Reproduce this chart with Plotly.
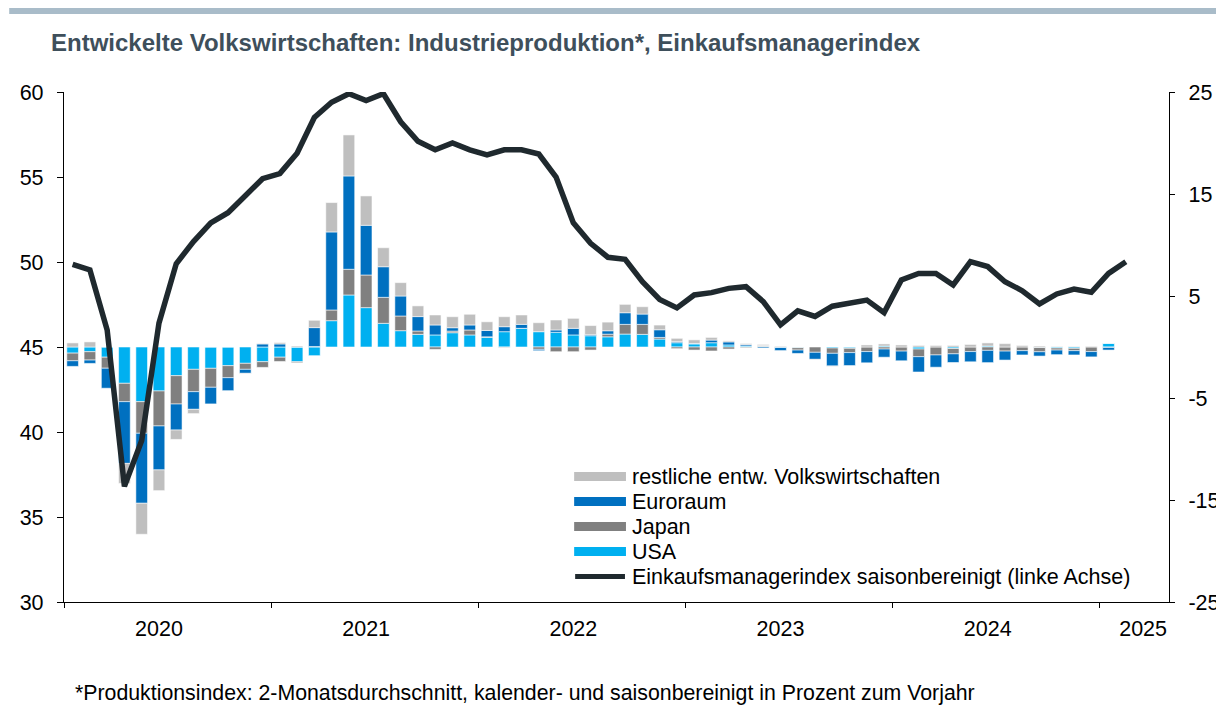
import plotly.graph_objects as go

# month index 0 = Jan 2020
months = list(range(62))

pmi = [49.86, 49.53, 46.0, 36.8, 39.5, 46.4, 49.9, 51.2, 52.3, 52.9, 53.9, 54.9,
       55.2, 56.4, 58.5, 59.4, 59.9, 59.5, 59.9, 58.25, 57.1, 56.6, 57.0, 56.6,
       56.3, 56.6, 56.6, 56.35, 55.0, 52.3, 51.1, 50.28, 50.16, 48.84, 47.8, 47.3,
       48.06, 48.2, 48.45, 48.55, 47.67, 46.3, 47.13, 46.8, 47.4, 47.57, 47.76, 47.02,
       48.94, 49.33, 49.33, 48.65, 50.02, 49.73, 48.84, 48.31, 47.53, 48.12, 48.41, 48.22,
       49.33, 50.02]

usa = [-0.6, -0.46, -1.0, -3.56, -5.36, -4.31, -2.81, -2.19, -2.09, -1.83, -1.6, -1.44,
       -1.0, -1.44, -0.85, 2.58, 5.1, 3.86, 2.32, 1.6, 1.24, 1.18, 1.4, 1.18,
       0.95, 1.5, 1.83, 1.5, 1.44, 1.18, 1.1, 1.0, 1.27, 1.24, 0.78, 0.42,
       0.3, 0.42, 0.2, 0.1, 0.05, -0.05, -0.07, 0.0, -0.1, -0.13, 0.0, 0.1,
       0.0, -0.2, 0.0, -0.15, 0.0, 0.1, 0.0, 0.0, -0.05, -0.1, -0.13, 0.0,
       0.36]
japan = [-0.75, -0.82, -1.08, -1.8, -3.1, -3.43, -2.78, -2.19, -1.86, -1.18, -0.59, -0.56,
         -0.42, -0.1, 0.05, 1.05, 2.52, 3.2, 2.55, 1.44, 0.33, -0.23, 0.16, 0.49,
         0.05, -0.05, 0.0, -0.23, -0.46, -0.46, -0.3, 0.26, 0.95, 0.98, 0.16, -0.16,
         -0.3, -0.39, -0.2, -0.07, 0.1, 0.0, -0.23, -0.52, -0.52, -0.42, -0.45, -0.2,
         -0.4, -0.75, -0.78, -0.52, -0.45, -0.33, -0.4, -0.36, -0.42, -0.2, -0.23, -0.45,
         -0.05]
euro = [-0.55, -0.33, -1.96, -6.05, -6.86, -4.31, -2.55, -1.73, -1.63, -1.27, -0.39, 0.3,
        0.3, 0.0, 1.85, 7.65, 9.15, 4.87, 3.0, 1.96, 1.41, 0.98, 0.33, 0.49,
        0.62, 0.49, 0.39, -0.13, 0.23, 0.65, 0.1, 0.33, 1.14, 1.01, 0.75, 0.1,
        0.05, 0.26, 0.3, 0.13, -0.1, -0.3, -0.33, -0.69, -1.24, -1.27, -1.1, -0.8,
        -0.95, -1.5, -1.2, -0.85, -1.0, -1.2, -0.88, -0.42, -0.42, -0.45, -0.42, -0.52,
        -0.25]
rest = [0.4, 0.5, 0.0, -1.96, -3.04, -2.03, -0.92, -0.42, 0.0, 0.0, -0.05, 0.05,
        0.13, 0.1, 0.72, 2.88, 4.02, 2.88, 1.86, 1.31, 1.05, 0.98, 1.08, 1.05,
        0.85, 0.98, 0.92, 0.88, 0.98, 0.98, 0.9, 0.85, 0.82, 0.72, 0.46, 0.33,
        0.35, 0.26, 0.1, 0.1, 0.1, 0.07, 0.0, -0.05, -0.05, 0.0, 0.2, 0.2,
        0.2, 0.15, 0.15, 0.15, 0.25, 0.3, 0.33, 0.15, 0.1, 0.05, 0.05, 0.07,
        0.0]
bar_months = months[:len(usa)]

year_labels = ["2020", "2021", "2022", "2023", "2024", "2025"]
year_label_pos = [5, 17, 29, 41, 53, 62]
year_sep_pos = [-0.5, 11.5, 23.5, 35.5, 47.5, 59.5]

left_ticks = [30, 35, 40, 45, 50, 55, 60]
right_ticks = [-25, -15, -5, 5, 15, 25]
right_ticktext = ["-25", "-15", "-5", "5", "15", "25"]

series = [
    ("USA", usa, "#00B0F0"),
    ("Japan", japan, "#808080"),
    ("Euroraum", euro, "#0070C0"),
    ("restliche entw. Volkswirtschaften", rest, "#BFBFBF"),
]
line_name = "Einkaufsmanagerindex saisonbereinigt (linke Achse)"
line_color = "#1F292E"

FONT = "Liberation Sans, Arial, sans-serif"

fig = go.Figure()
for name, vals, col in series:
    fig.add_trace(go.Bar(
        x=bar_months, y=vals, name=name, yaxis="y",
        marker=dict(color=col, line=dict(color="rgba(255,255,255,0.55)", width=1)),
        showlegend=False,
    ))
fig.add_trace(go.Scatter(
    x=months, y=pmi, name=line_name, yaxis="y2", mode="lines",
    line=dict(color=line_color, width=5.5), showlegend=False,
))

# page offset of the figure (body margin)
OFF = 8
W, H = 1224, 707
L, T = 63 - OFF, 92 - OFF
R = W - (1172 - OFF)
B = H - (602 - OFF)
pw, ph = W - L - R, H - T - B


def px(xp):
    return (xp - OFF - L) / pw


def py(yp):
    return (H - B - (yp - OFF)) / ph


fig.update_layout(
    width=W, height=H,
    margin=dict(l=L, r=R, t=T, b=B),
    paper_bgcolor="white", plot_bgcolor="white",
    barmode="relative", bargap=0.325,
    font=dict(family=FONT, size=21, color="black"),
    showlegend=False,
    xaxis=dict(
        range=[-0.5, 63.5], showgrid=False, zeroline=False,
        showline=True, linecolor="black", linewidth=1.3,
        tickmode="array", tickvals=year_label_pos, ticktext=year_labels,
        ticks="", ticklabelstandoff=7,
        minor=dict(tickmode="array", tickvals=year_sep_pos, ticks="outside",
                   ticklen=5, tickcolor="black", tickwidth=1.3, showgrid=False),
        tickfont=dict(size=21.5),
    ),
    yaxis=dict(
        range=[-25, 25], side="right", showgrid=False, zeroline=False,
        showline=True, linecolor="black", linewidth=1.3,
        tickmode="array", tickvals=right_ticks, ticktext=right_ticktext,
        ticks="outside", ticklen=5, tickcolor="black", tickwidth=1.3,
        ticklabelstandoff=9,
        tickfont=dict(size=21.5),
    ),
    yaxis2=dict(
        range=[30, 60], side="left", overlaying="y", showgrid=False, zeroline=False,
        showline=True, linecolor="black", linewidth=1.3,
        tickmode="array", tickvals=left_ticks,
        ticks="outside", ticklen=6, tickcolor="black", tickwidth=1.3,
        ticklabelstandoff=9,
        tickfont=dict(size=21.5),
    ),
)

shapes = [
    dict(type="rect", xref="paper", yref="paper", x0=px(8), x1=px(1240),
         y0=py(14), y1=py(8), fillcolor="#A9BCC9", line=dict(width=0), layer="above"),
]
annotations = [
    dict(text="<b>Entwickelte Volkswirtschaften: Industrieproduktion*, Einkaufsmanagerindex</b>",
         xref="paper", yref="paper", x=px(48), y=py(43), xanchor="left", yanchor="middle",
         showarrow=False, font=dict(size=24, color="#3E4F5B", family=FONT)),
    dict(text="*Produktionsindex: 2-Monatsdurchschnitt, kalender- und saisonbereinigt in Prozent zum Vorjahr",
         xref="paper", yref="paper", x=px(72), y=py(693), xanchor="left", yanchor="middle",
         showarrow=False, font=dict(size=21.3, color="black", family=FONT)),
]

legend_items = [
    ("restliche entw. Volkswirtschaften", "#BFBFBF", 476.5, "rect"),
    ("Euroraum", "#0070C0", 501.5, "rect"),
    ("Japan", "#808080", 526.5, "rect"),
    ("USA", "#00B0F0", 551.5, "rect"),
    (line_name, line_color, 576.5, "line"),
]
for label, col, yc, kind in legend_items:
    if kind == "rect":
        shapes.append(dict(type="rect", xref="paper", yref="paper",
                           x0=px(575), x1=px(627), y0=py(yc + 4.5), y1=py(yc - 4.5),
                           fillcolor=col, line=dict(width=0), layer="above"))
    else:
        shapes.append(dict(type="line", xref="paper", yref="paper",
                           x0=px(576), x1=px(626), y0=py(yc), y1=py(yc),
                           line=dict(color=col, width=5), layer="above"))
    annotations.append(dict(text=label, xref="paper", yref="paper",
                            x=px(631), y=py(yc), xanchor="left", yanchor="middle",
                            showarrow=False, font=dict(size=21.5, color="black", family=FONT)))

fig.update_layout(shapes=shapes, annotations=annotations)

fig.write_html("out.html")
